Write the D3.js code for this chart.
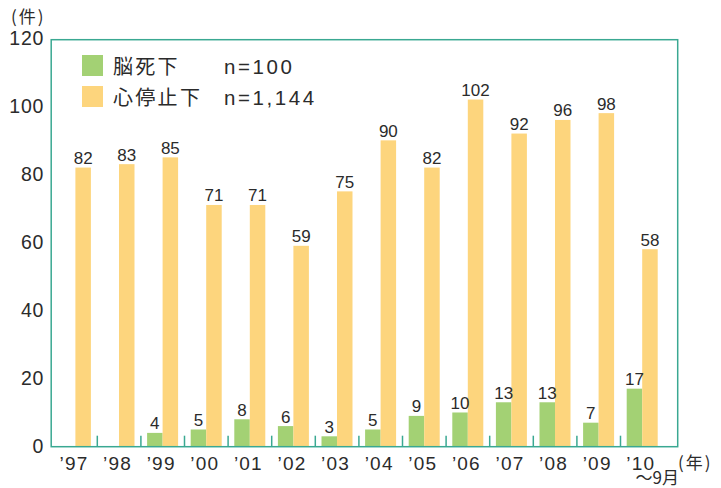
<!DOCTYPE html>
<html><head><meta charset="utf-8">
<script src="https://cdn.jsdelivr.net/npm/d3@7"></script>
<style>
html,body{margin:0;padding:0;background:#fff;}
svg{display:block;}
</style></head>
<body>
<svg id="chart" width="721" height="488"></svg>
<script>
const years = ["’97","’98","’99","’00","’01","’02","’03","’04","’05","’06","’07","’08","’09","’10"];
const brainDeath = [null,null,4,5,8,6,3,5,9,10,13,13,7,17];
const cardiacArrest = [82,83,85,71,71,59,75,90,82,102,92,96,98,58];
const yTicks = [0,20,40,60,80,100,120];
const seriesNames = ["脳死下","心停止下"];
const seriesTotals = ["n=100","n=1,144"];

const colGreen = "#a3d174", colOrange = "#fdd57d", colAxis = "#3aa892", colText = "#2b2b2b";
const latin = "'Liberation Sans', Arial, sans-serif";
const cjk = "'Noto Sans CJK JP', sans-serif";

const svg = d3.select("#chart");
const frame = {l:51.2, r:677.7, t:39.7, b:446.7};

const x = d3.scaleBand().domain(years).range([53.7, 53.7 + 14*43.6]).padding(0);
const y = d3.scaleLinear().domain([0,120]).range([446.5, 38.3]);
const bw = 15.5;

// bars
const data = years.map((yr,i)=>({yr, b:brainDeath[i], c:cardiacArrest[i]}));
svg.append("g").selectAll("rect").data(data.filter(d=>d.b!=null)).join("rect")
  .attr("x", d=>x(d.yr)+6.2).attr("width", bw)
  .attr("y", d=>y(d.b)).attr("height", d=>y(0)-y(d.b)).attr("fill", colGreen);
svg.append("g").selectAll("rect").data(data).join("rect")
  .attr("x", d=>x(d.yr)+21.7).attr("width", bw)
  .attr("y", d=>y(d.c)).attr("height", d=>y(0)-y(d.c)).attr("fill", colOrange);

// value labels
const vl = svg.append("g").attr("font-family", latin).attr("font-size", 17).attr("fill", colText).attr("text-anchor","middle");
vl.selectAll("text.b").data(data.filter(d=>d.b!=null)).join("text").attr("class","b")
  .attr("x", d=>x(d.yr)+6.2+bw/2).attr("y", d=>y(d.b)-3.5).text(d=>d.b);
vl.selectAll("text.c").data(data).join("text").attr("class","c")
  .attr("x", d=>x(d.yr)+21.7+bw/2).attr("y", d=>y(d.c)-3.5).text(d=>d.c);

// frame
svg.append("rect").attr("x", frame.l).attr("y", frame.t)
  .attr("width", frame.r-frame.l).attr("height", frame.b-frame.t)
  .attr("fill","none").attr("stroke", colAxis).attr("stroke-width", 1.5);

// category separator ticks
svg.append("g").selectAll("line").data(years.slice(1)).join("line")
  .attr("x1", d=>x(d)).attr("x2", d=>x(d)).attr("y1", frame.b).attr("y2", frame.b-11)
  .attr("stroke", colAxis).attr("stroke-width", 1.5);

// y axis labels
const ya = svg.append("g").attr("transform", `translate(${frame.l},0)`)
  .call(d3.axisLeft(y).tickValues(yTicks).tickSize(0).tickPadding(7));
ya.select(".domain").remove();
ya.selectAll("text").attr("font-family", latin).attr("font-size", 19.5)
  .attr("fill", colText).attr("letter-spacing", 0.8);

// x labels
const xl = svg.append("g").attr("font-family", latin).attr("font-size", 19).attr("fill", colText)
  .attr("text-anchor","middle").attr("letter-spacing", 1.2);
xl.selectAll("text").data(years).join("text")
  .attr("x", d=>x(d)+x.bandwidth()/2 - 1.5).attr("y", 470).text(d=>d);

// units
svg.append("text").attr("x", 11).attr("y", 23).attr("font-family", cjk).attr("font-size", 17)
  .attr("fill", colText).attr("letter-spacing", 2).text("(件)");
svg.append("text").attr("x", 678).attr("y", 469).attr("font-family", cjk).attr("font-size", 17)
  .attr("fill", colText).attr("letter-spacing", 2).text("(年)");
svg.append("text").attr("x", x(years[13])+15).attr("y", 484)
  .attr("font-family", cjk).attr("font-size", 17).attr("fill", colText).text("～9月");

// legend
const lg = svg.append("g");
const rows = [{name:seriesNames[0], n:seriesTotals[0], c:colGreen, y:55},
              {name:seriesNames[1], n:seriesTotals[1], c:colOrange, y:86}];
rows.forEach(r=>{
  lg.append("rect").attr("x", 82).attr("y", r.y).attr("width", 21).attr("height", 21).attr("fill", r.c);
  lg.append("text").attr("x", 113).attr("y", r.y+19).attr("font-family", cjk).attr("font-size", 20)
    .attr("letter-spacing", 2.3).attr("fill", colText).text(r.name);
  lg.append("text").attr("x", 224).attr("y", r.y+18.6).attr("font-family", latin).attr("font-size", 20.5)
    .attr("letter-spacing", 2.6).attr("fill", colText).text(r.n);
});
</script>
</body></html>
